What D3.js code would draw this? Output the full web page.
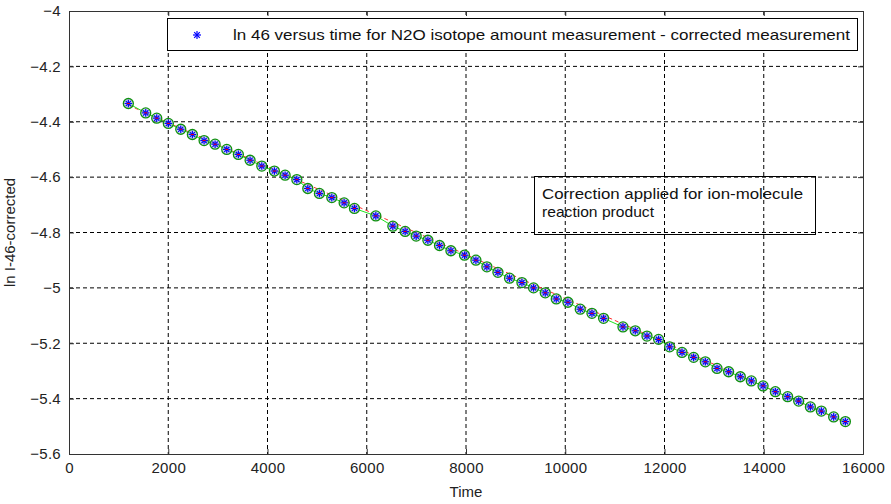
<!DOCTYPE html>
<html>
<head>
<meta charset="utf-8">
<script src="https://cdn.jsdelivr.net/npm/d3@7"></script>
<style>
  body { margin: 0; background: #fff; }
  text { font-family: "Liberation Sans", Arial, sans-serif; }
</style>
</head>
<body>
<script>
'use strict';

var time = [1196, 1546, 1768, 2002, 2252, 2486, 2722, 2944, 3179, 3413, 3649, 3885, 4139, 4355, 4591,
            4812, 5046, 5296, 5544, 5752, 6183, 6526, 6774, 6996, 7232, 7466, 7696, 7970, 8200,
            8421, 8643, 8877, 9127, 9361, 9597, 9819, 10054, 10302, 10538, 10772, 11163, 11411, 11647, 11881,
            12103, 12353, 12587, 12823, 13058, 13292, 13528, 13750, 13986, 14234, 14482, 14704, 14940, 15161, 15409, 15645];
var lnI46 = [-4.334, -4.368, -4.387, -4.406, -4.427, -4.446, -4.468, -4.481, -4.500, -4.518, -4.539, -4.560, -4.578, -4.593, -4.609,
             -4.641, -4.659, -4.674, -4.693, -4.713, -4.740, -4.777, -4.796, -4.813, -4.828, -4.847, -4.866, -4.882, -4.900,
             -4.924, -4.944, -4.965, -4.981, -5.000, -5.018, -5.040, -5.052, -5.077, -5.092, -5.110, -5.141, -5.155, -5.174, -5.186,
             -5.213, -5.233, -5.251, -5.267, -5.291, -5.303, -5.321, -5.336, -5.354, -5.375, -5.393, -5.409, -5.430, -5.445, -5.466, -5.483];

// fitted line end points
var fitTime = [1196, 15645];
var fitValue = [-4.340, -5.486];

var xTicks = [0, 2000, 4000, 6000, 8000, 10000, 12000, 14000, 16000];
var yTicks = [-5.6, -5.4, -5.2, -5, -4.8, -4.6, -4.4, -4.2, -4];

var legendText = "ln 46 versus time for N2O isotope amount measurement - corrected measurement";
var noteLines = ["Correction applied for ion-molecule", "reaction product"];

var margin = {left: 69, top: 11, right: 28, bottom: 50};
var width = 891, height = 504;
var w = width - margin.left - margin.right, h = height - margin.top - margin.bottom;

var x = d3.scaleLinear().domain([0, 16000]).range([0, w]);
var y = d3.scaleLinear().domain([-5.6, -4]).range([h, 0]);

var svg = d3.select("body").append("svg")
    .attr("width", width).attr("height", height);
var g = svg.append("g").attr("transform", "translate(" + margin.left + "," + margin.top + ")");

// grid
g.selectAll(".gx").data(xTicks.slice(1, -1)).enter().append("line")
    .attr("x1", d => x(d)).attr("x2", d => x(d)).attr("y1", 0).attr("y2", h)
    .attr("stroke", "#000").attr("stroke-dasharray", "4,3").attr("stroke-width", 1);
g.selectAll(".gy").data(yTicks.slice(1, -1)).enter().append("line")
    .attr("y1", d => y(d)).attr("y2", d => y(d)).attr("x1", 0).attr("x2", w)
    .attr("stroke", "#000").attr("stroke-dasharray", "4,3").attr("stroke-width", 1);

// axes
var xAxis = d3.axisBottom(x).tickValues(xTicks).tickSize(-5).tickPadding(8).tickFormat(d3.format("d"));
var yAxis = d3.axisLeft(y).tickValues(yTicks).tickSize(-5).tickPadding(8).tickFormat(d => d3.format("")(d));
var gx = g.append("g").attr("transform", "translate(0," + h + ")").call(xAxis);
var gy = g.append("g").call(yAxis);
g.append("g").call(d3.axisTop(x).tickValues(xTicks).tickSize(-5).tickFormat(""));
g.append("g").attr("transform", "translate(" + w + ",0)").call(d3.axisRight(y).tickValues(yTicks).tickSize(-5).tickFormat(""));
g.selectAll(".domain, .tick line").attr("stroke", "#333");
[gx, gy].forEach(function(a){
  a.selectAll("text").attr("font-size", "15px").attr("fill", "#222").attr("letter-spacing", "0.3px")
    .attr("font-family", "'Liberation Sans', Arial, sans-serif");
});

// lines
var pts = time.map((t, i) => [t, lnI46[i]]);
g.append("path").datum(fitTime.map((t, i) => [t, fitValue[i]]))
    .attr("d", d3.line().x(d => x(d[0])).y(d => y(d[1])))
    .attr("fill", "none").attr("stroke", "#ff3030").attr("stroke-width", 1).attr("stroke-dasharray", "4,3");
g.append("path").datum(pts)
    .attr("d", d3.line().x(d => x(d[0])).y(d => y(d[1])))
    .attr("fill", "none").attr("stroke", "#20e020").attr("stroke-width", 1);

// markers
var mk = g.selectAll(".mk").data(pts).enter().append("g")
    .attr("transform", d => "translate(" + x(d[0]) + "," + y(d[1]) + ")");
mk.append("circle").attr("r", 5).attr("fill", "#a8b8d8").attr("fill-opacity", 0.5)
    .attr("stroke", "#109010").attr("stroke-width", 1.3);
function asterisk(sel, s) {
  [[-s, 0, s, 0], [0, -s, 0, s], [-s * 0.7, -s * 0.7, s * 0.7, s * 0.7], [-s * 0.7, s * 0.7, s * 0.7, -s * 0.7]].forEach(function(l){
    sel.append("line").attr("x1", l[0]).attr("y1", l[1]).attr("x2", l[2]).attr("y2", l[3])
      .attr("stroke", "#0000ff").attr("stroke-width", 1.2);
  });
}
asterisk(mk, 3.8);
mk.append("line").attr("x1", -1.5).attr("x2", 1.5).attr("stroke", "#ff0000").attr("stroke-width", 1);

// legend
var lg = svg.append("g");
lg.append("rect").attr("x", 167.5).attr("y", 18.5).attr("width", 690).attr("height", 32)
    .attr("fill", "#fff").attr("stroke", "#000");
var la = lg.append("g").attr("transform", "translate(197,35)");
asterisk(la, 4);
lg.append("text").attr("x", 233).attr("y", 40).attr("font-size", "15px").attr("fill", "#111")
    .attr("textLength", 617).attr("lengthAdjust", "spacingAndGlyphs")
    .text(legendText);

// note box
var noteWidths = [261, 112];
var nb = svg.append("g");
nb.append("rect").attr("x", 534.5).attr("y", 176.5).attr("width", 281).attr("height", 58)
    .attr("fill", "none").attr("stroke", "#000");
nb.selectAll("text").data(noteLines).enter().append("text")
    .attr("x", 542).attr("y", (d, i) => 199 + i * 18).attr("font-size", "15px").attr("fill", "#111")
    .attr("textLength", (d, i) => noteWidths[i]).attr("lengthAdjust", "spacingAndGlyphs")
    .text(d => d);

// axis labels
svg.append("text").attr("x", margin.left + w / 2).attr("y", 497).attr("text-anchor", "middle")
    .attr("font-size", "15px").attr("fill", "#222").text("Time");
svg.append("text").attr("transform", "translate(15," + (margin.top + h / 2) + ") rotate(-90)")
    .attr("text-anchor", "middle").attr("font-size", "15px").attr("fill", "#222").text("ln I-46-corrected");
</script>
</body>
</html>
